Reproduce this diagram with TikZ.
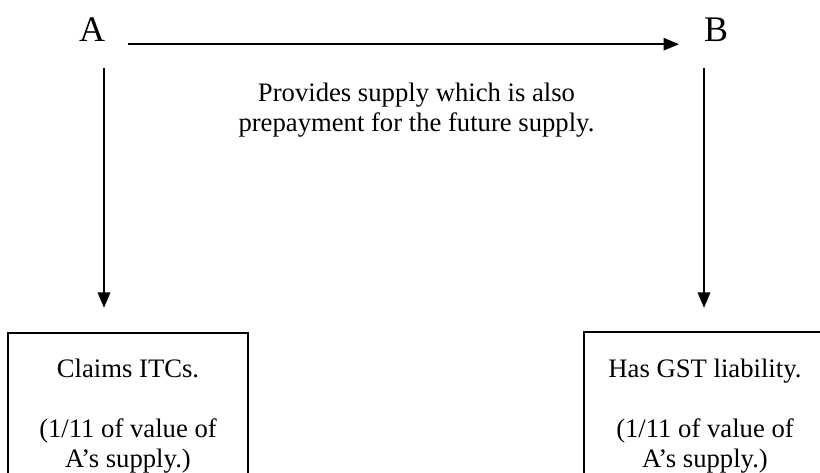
\documentclass[tikz,border=0pt]{standalone}
\usepackage{fontspec}
\setmainfont{Liberation Serif}
\usetikzlibrary{arrows.meta}

\begin{document}
\begin{tikzpicture}[
    x=0.45pt, y=-0.45pt,
    party/.style={inner sep=0pt, font=\fontsize{16.2pt}{18pt}\selectfont},
    note/.style={inner sep=0pt, align=center, font=\fontsize{12pt}{13.5pt}\selectfont},
    outcome/.style={rectangle, draw=black, line width=0.9pt, minimum width=108pt, align=center, inner xsep=4pt, inner ysep=11.5pt, text depth=80pt, font=\fontsize{12pt}{13.5pt}\selectfont},
    arrow/.style={line width=1.1pt, -{Triangle[length=7pt, width=5.5pt]}}
]
\useasboundingbox (0,0) rectangle (820,473);
\clip (0,0) rectangle (820,473);

% the two parties
\node [party, anchor=base] (A) at (92,42) {A};
\node [party, anchor=base] (B) at (716,42) {B};

% what happens at each end
\node [outcome, anchor=north] (claims) at (128,332) {Claims ITCs.\\[13.5pt](1/11 of value of\\A's supply.)};
\node [outcome, draw=none, anchor=north west] (liability) at (584,332) {Has GST liability.\\[13.5pt](1/11 of value of\\A's supply.)};
\draw [line width=0.9pt] (liability.south west) |- ([xshift=20pt]liability.north east); % runs off the page

% supply from A to B
\draw [arrow] ([xshift=10pt, yshift=-1pt]A.base east) -- ([xshift=-11pt, yshift=-1pt]B.base west);
\node [note, anchor=base] (supply) at (416.5,132) {Provides supply which is also\\prepayment for the future supply.};

% down to the boxes
\coordinate (Adown) at (104,68);
\coordinate (Bdown) at (704,68);
\draw [arrow, shorten >=10.8pt] (Adown) -- (Adown |- claims.north);
\draw [arrow, shorten >=10.8pt] (Bdown) -- (Bdown |- liability.north);

\end{tikzpicture}
\end{document}
